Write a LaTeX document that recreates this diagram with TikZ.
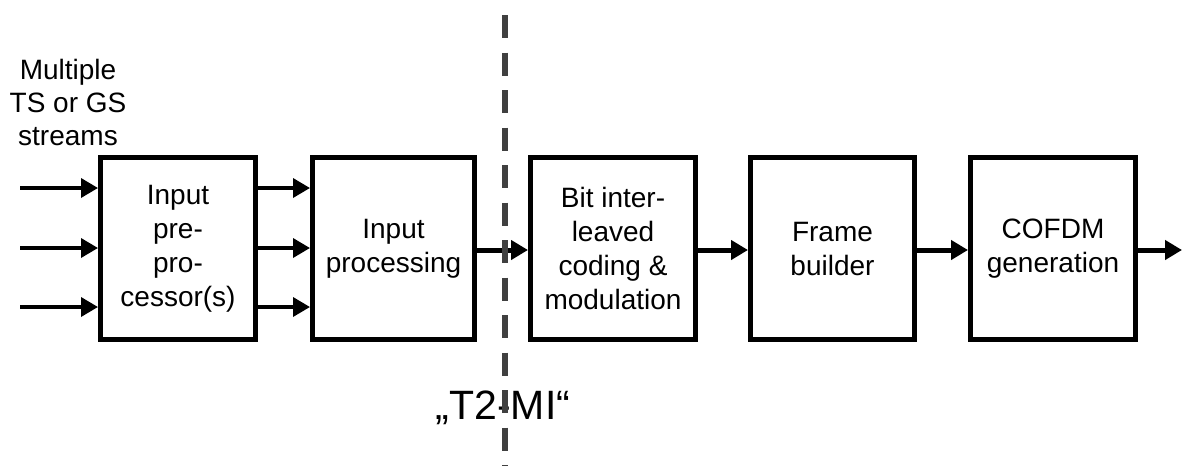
\documentclass[tikz,border=0pt]{standalone}
\usepackage{fontspec}
\setmainfont{Liberation Sans}
\usetikzlibrary{arrows.meta}
\begin{document}
\begin{tikzpicture}[x=1pt,y=-1pt,
  box/.style={draw, line width=5pt, align=center, font=\fontsize{28}{34}\selectfont, inner sep=0pt, minimum height=182pt},
  arr/.style={line width=5pt, -{Triangle[length=17pt,width=19pt]}},
  thinarr/.style={line width=3.5pt, -{Triangle[length=17pt,width=19pt]}},
  divider/.style={line width=6pt, color=black!75, dash pattern=on 23pt off 14.5pt}]
\useasboundingbox (0,0) rectangle (1182,466);
\node[box, minimum width=155pt] (b1) at (178,248.5) {Input\\pre-\\pro-\\cessor(s)};
\node[box, minimum width=162pt] (b2) at (393.5,248.5) {Input\\processing};
\node[box, minimum width=165pt] (b3) at (613,248.5) {Bit inter-\\leaved\\coding \&\\modulation};
\node[box, minimum width=164pt] (b4) at (832.5,248.5) {Frame\\builder};
\node[box, minimum width=165pt] (b5) at (1053,248.5) {COFDM\\generation};
\node[align=center, font=\fontsize{28}{33}\selectfont, inner sep=0pt] (lbl) at (68,102) {Multiple\\TS or GS\\streams};
\node[font=\fontsize{41}{48}\selectfont, inner sep=0pt] (t2) at (503,408) {„T2-MI“};
\coordinate (in1) at (20,188);
\coordinate (in2) at (20,248);
\coordinate (in3) at (20,307);
\coordinate (out) at (1182,250);
\draw[thinarr] (in1) -- (b1.west |- in1);
\draw[thinarr] (in2) -- (b1.west |- in2);
\draw[thinarr] (in3) -- (b1.west |- in3);
\draw[thinarr] (b1.east |- in1) -- (b2.west |- in1);
\draw[thinarr] (b1.east |- in2) -- (b2.west |- in2);
\draw[thinarr] (b1.east |- in3) -- (b2.west |- in3);
\draw[arr] (b2.east |- out) -- (b3.west |- out);
\draw[arr] (b3.east |- out) -- (b4.west |- out);
\draw[arr] (b4.east |- out) -- (b5.west |- out);
\draw[arr] (b5.east |- out) -- (out);
\coordinate (dtop) at (505,15);
\coordinate (dbot) at (505,466);
\draw[divider] (dtop) -- (dbot);
\end{tikzpicture}
\end{document}
